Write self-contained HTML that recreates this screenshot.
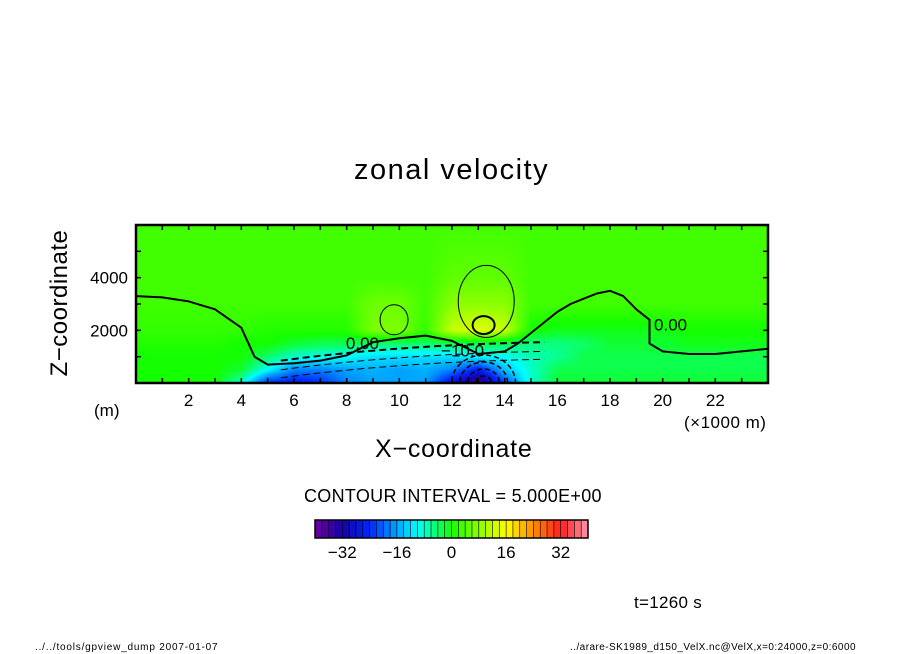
<!DOCTYPE html>
<html><head><meta charset="utf-8"><style>
body{margin:0;background:#fff;width:904px;height:654px;overflow:hidden;position:relative;font-family:"Liberation Sans",sans-serif;}
.t{position:absolute;white-space:nowrap;color:#000;}
</style></head><body>
<div class="t" style="left:354px;top:154px;font-size:29px;letter-spacing:1.5px;">zonal velocity</div>
<canvas id="cv" width="632" height="158" style="position:absolute;left:136px;top:225px;"></canvas>
<svg id="over" width="904" height="654" style="position:absolute;left:0;top:0"></svg>
<div class="t" style="left:-30px;top:289px;font-size:24px;transform:rotate(-90deg);transform-origin:center;width:180px;text-align:center;letter-spacing:0.5px;">Z−coordinate</div>
<div class="t" style="left:94px;top:401px;font-size:17px;">(m)</div>
<div class="t" style="left:684px;top:413px;font-size:17px;letter-spacing:0.5px;">(×1000 m)</div>
<div class="t" style="left:375px;top:435px;font-size:25px;letter-spacing:0.8px;">X−coordinate</div>
<div class="t" style="left:304px;top:486px;font-size:18px;letter-spacing:0.3px;">CONTOUR INTERVAL = 5.000E+00</div>
<div class="t" style="left:634px;top:593px;font-size:17px;letter-spacing:0.3px;">t=1260 s</div>
<div class="t" style="left:35px;top:642px;font-size:10px;letter-spacing:0.8px;">../../tools/gpview_dump  2007-01-07</div>
<div class="t" style="left:570px;top:642px;font-size:10px;letter-spacing:0.45px;">../arare-SK1989_d150_VelX.nc@VelX,x=0:24000,z=0:6000</div>
<script>
const xs=[0,1,2,3,4,5,6,7,8,9,10,11,12,13,14,15,16,17,18,19,20,21,22,23,24];
const zs=[0,500,1000,1500,2000,3000,4000,6000];
const vals=[
[0,0,0,0,-8,-24,-26,-24,-18,-16,-16,-16,-28,-38,-22,-8,-2,-2,-2,-2,-2,-2,-2,-2,-2],
[0,0,0,0,-2,-10,-18,-18,-16,-15,-16,-15,-18,-26,-14,-8,-3,-3,-3,-3,-3,-3,-3,-3,-3],
[0,0,0,0,0,-4,-8,-9,-10,-12,-12,-12,-12,-10,-10,-7,-6,-3,-3,-3,-3,-3,-3,-3,-3],
[1,1,1,1,0,0,-2,-3,-3,-4,-4,-4,-3,-3,-3,-5,-5,-4,-2,-2,-2,-1,-1,-1,-1],
[2,2,2,2,2,1,1,1,1,7,7,2,12,14,12,0,-1,-1,-1,-1,-1,0,0,0,0],
[3,3,3,3,3,3,3,3,3,6,6,3,8,8,8,3,3,3,3,3,3,3,3,3,3],
[3,3,3,3,3,3,3,3,3,3,3,3,5,5,5,3,3,3,3,3,3,3,3,3,3],
[3,3,3,3,3,3,3,3,3,3,3,3,3,3,3,3,3,3,3,3,3,3,3,3,3]];
const xTicks=[2,4,6,8,10,12,14,16,18,20,22];
const zTicks=[2000,4000];
const cbTicks=[-32,-16,0,16,32];
const zeroX=[0,1,2,3,4,4.5,5,6,7,8,9,10,11,12,12.5,13,14,14.5,15,15.5,16,16.5,17,17.5,18,18.5,19,19.5,19.5,20,21,22,23,24];
const zeroZ=[3300,3250,3100,2800,2100,1000,700,750,850,1050,1550,1700,1800,1600,1350,1100,1200,1500,1900,2300,2700,3000,3200,3400,3500,3300,2800,2400,1500,1200,1100,1100,1200,1300];
const X0=136,X1=768,Y0=383,Y1=225,VMIN=-40,VMAX=40;
const sx=x=>X0+(x/24)*(X1-X0), sz=z=>Y0-(z/6000)*(Y0-Y1);
function cmap(v){
 const stops=[[-40,[110,0,160]],[-32,[20,0,170]],[-24,[0,40,255]],[-10,[0,255,255]],[0,[20,255,0]],[8,[140,255,0]],[16,[255,255,0]],[24,[255,140,0]],[32,[255,30,30]],[40,[255,150,170]]];
 v=Math.max(VMIN,Math.min(VMAX,v));
 for(let i=0;i<stops.length-1;i++){const[a,ca]=stops[i],[b,cb]=stops[i+1];
  if(v<=b){const t=(v-a)/(b-a);return ca.map((c,k)=>Math.round(c+(cb[k]-c)*t));}}
 return stops[stops.length-1][1];
}
function interp(x,z){
 let i=Math.min(xs.length-2,Math.floor(x));let tx=x-xs[i];
 let j=0;while(j<zs.length-2&&z>zs[j+1])j++;let tz=(z-zs[j])/(zs[j+1]-zs[j]);
 const a=vals[j][i],b=vals[j][i+1],c=vals[j+1][i],d=vals[j+1][i+1];
 return (a*(1-tx)+b*tx)*(1-tz)+(c*(1-tx)+d*tx)*tz;
}
const cv=document.getElementById('cv'),ctx=cv.getContext('2d');
const img=ctx.createImageData(cv.width,cv.height);
for(let py=0;py<cv.height;py++)for(let px=0;px<cv.width;px++){
 const x=(px+0.5)/cv.width*24,z=(cv.height-py-0.5)/cv.height*6000;
 const c=cmap(interp(x,z));const o=(py*cv.width+px)*4;
 img.data[o]=c[0];img.data[o+1]=c[1];img.data[o+2]=c[2];img.data[o+3]=255;}
ctx.putImageData(img,0,0);
const NS='http://www.w3.org/2000/svg';
const ov=document.getElementById('over');
function mk(tag,attrs,parent){const e=document.createElementNS(NS,tag);for(const k in attrs)e.setAttribute(k,attrs[k]);(parent||ov).appendChild(e);return e;}
const defs=mk('defs',{});
const cp=mk('clipPath',{id:'pc'},defs);
mk('rect',{x:X0,y:Y1,width:X1-X0,height:Y0-Y1},cp);
const g=mk('g',{'clip-path':'url(#pc)'});


let d=zeroX.map((x,i)=>(i?'L':'M')+sx(x).toFixed(1)+' '+sz(zeroZ[i]).toFixed(1)).join(' ');
const zc=mk('path',{d:d,fill:'none',stroke:'#000','stroke-width':2,'stroke-linejoin':'round'},g);


const e1=mk('ellipse',{cx:sx(13.3),cy:sz(3100),rx:28,ry:36,fill:'none',stroke:'#000','stroke-width':1},g);


const e2=mk('ellipse',{cx:sx(9.8),cy:sz(2400),rx:14,ry:15,fill:'none',stroke:'#000','stroke-width':1},g);


const e3=mk('ellipse',{cx:sx(13.2),cy:sz(2200),rx:11,ry:9,fill:'none',stroke:'#000','stroke-width':2},g);


const dz=[[1250,2],[900,1],[600,1]];
dz.forEach(([z,w])=>{const p=mk('path',{d:`M${sx(5.5)} ${sz(z-400)} Q${sx(10)} ${sz(z+200)} ${sx(15.5)} ${sz(z+300)}`,fill:'none',stroke:'#000','stroke-width':w,'stroke-dasharray':'7 4'},g);
 
 });
for(let r=1;r<=4;r++){const c=mk('ellipse',{cx:sx(13.2),cy:sz(0),rx:8*r,ry:7*r,fill:'none',stroke:'#000','stroke-width':1.5,'stroke-dasharray':'5 3'},g);
 
 }
const labs=[[8.6,1300,'0.00'],[12.4,1000,'−10.0'],[20.3,2000,'0.00']];
labs.forEach(([x,z,s])=>{const t=mk('text',{x:sx(x),y:sz(z),'font-size':17,'font-family':'Liberation Sans, sans-serif','text-anchor':'middle'});t.textContent=s;
 
 });
const fr=mk('rect',{x:X0,y:Y1,width:X1-X0,height:Y0-Y1,fill:'none',stroke:'#000','stroke-width':2.5});


for(let k=1;k<24;k++){mk('line',{x1:sx(k),x2:sx(k),y1:Y0,y2:Y0-5,stroke:'#000','stroke-width':1.5});mk('line',{x1:sx(k),x2:sx(k),y1:Y1,y2:Y1+5,stroke:'#000','stroke-width':1.5});}
for(let k=1;k<6;k++){mk('line',{x1:X0,x2:X0+5,y1:sz(k*1000),y2:sz(k*1000),stroke:'#000','stroke-width':1.5});mk('line',{x1:X1,x2:X1-5,y1:sz(k*1000),y2:sz(k*1000),stroke:'#000','stroke-width':1.5});}
xTicks.forEach(v=>{const t=mk('text',{x:sx(v),y:406,'font-size':17,'font-family':'Liberation Sans, sans-serif','text-anchor':'middle'});t.textContent=v;
 
 });
zTicks.forEach(v=>{const t=mk('text',{x:128,y:sz(v)+6,'font-size':17,'font-family':'Liberation Sans, sans-serif','text-anchor':'end'});t.textContent=v;
 
 });
const CB0=315,CB1=588,cbx=v=>CB0+(v-VMIN)/(VMAX-VMIN)*(CB1-CB0);
for(let v=VMIN;v<VMAX;v+=2){const c=cmap(v+1);const r=mk('rect',{x:cbx(v),y:520,width:cbx(v+2)-cbx(v)+0.3,height:18,fill:`rgb(${c})`});
 
 
 mk('line',{x1:cbx(v),x2:cbx(v),y1:520,y2:538,stroke:'#000','stroke-width':0.6});}
const cbf=mk('rect',{x:CB0,y:520,width:CB1-CB0,height:18,fill:'none',stroke:'#000','stroke-width':1.5});


cbTicks.forEach(v=>{const t=mk('text',{x:cbx(v),y:558,'font-size':17,'font-family':'Liberation Sans, sans-serif','text-anchor':'middle'});t.textContent=v<0?'−'+(-v):v;
 
 });
</script>
</body></html>
